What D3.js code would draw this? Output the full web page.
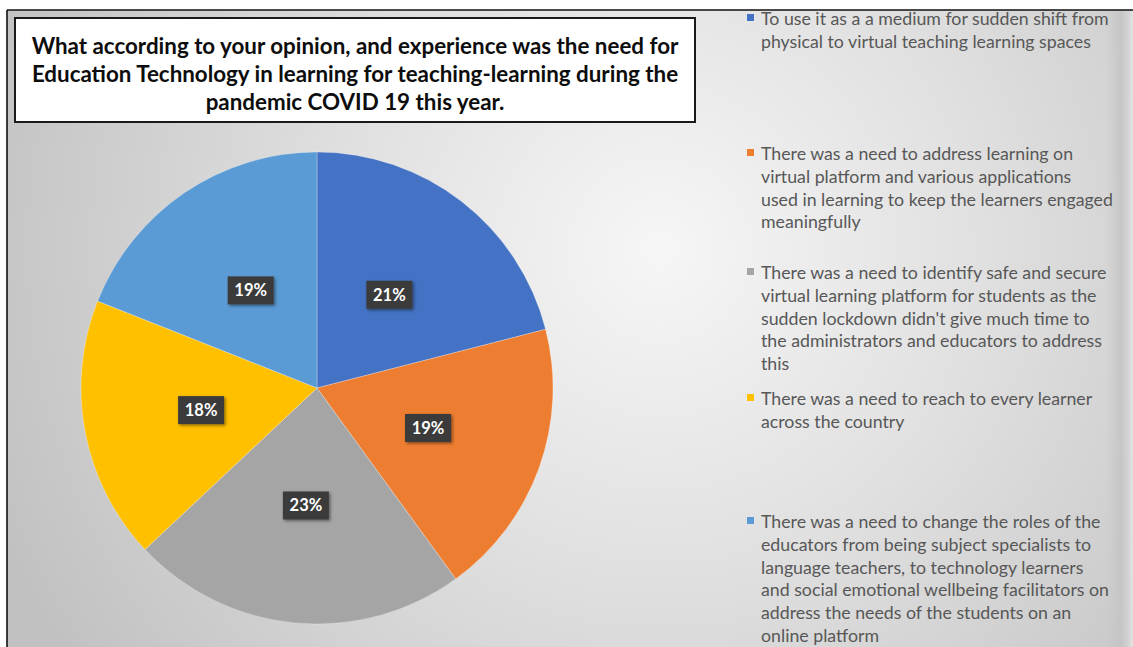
<!DOCTYPE html>
<html>
<head>
<meta charset="utf-8">
<script src="https://cdn.jsdelivr.net/npm/d3@7"></script>
<style>
  html, body { margin: 0; padding: 0; background: #ffffff; overflow: hidden; }
  svg { display: block; }
</style>
</head>
<body>
<svg id="chart" width="1133" height="647"></svg>
<script>
// Survey answers (legend text, line breaks as shown in the legend)
const categories = [
  "To use it as a a medium for sudden shift from\nphysical to virtual teaching learning spaces",
  "There was a need to address learning on\nvirtual platform and various applications\nused in learning to keep the learners engaged\nmeaningfully",
  "There was a need to identify safe and secure\nvirtual learning platform for students as the\nsudden lockdown didn't give much time to\nthe administrators and educators to address\nthis",
  "There was a need to reach to every learner\nacross the country",
  "There was a need to change the roles of the\neducators from being subject specialists to\nlanguage teachers, to technology learners\nand social emotional wellbeing facilitators on\naddress the needs of the students on an\nonline platform"
];
// Share of respondents, percent
const shares = [21, 19, 23, 18, 19];
const sliceColors = ["#4472C4", "#ED7D31", "#A5A5A5", "#FFC000", "#5B9BD5"];
const titleLines = [
  "What according to your opinion, and experience was the need for",
  "Education Technology in learning for teaching-learning during the",
  "pandemic COVID 19 this year."
];

const W = 1133, H = 647;
const FONT = "Lato, 'Open Sans', 'DejaVu Sans', sans-serif";
const svg = d3.select("#chart");
const defs = svg.append("defs");

// Background: radial grey gradient inside a thin black frame
const bg = defs.append("radialGradient")
  .attr("id", "bgGrad").attr("gradientUnits", "userSpaceOnUse")
  .attr("cx", 660).attr("cy", 250).attr("r", 720);
bg.append("stop").attr("offset", 0).attr("stop-color", "#f6f6f6");
bg.append("stop").attr("offset", 0.45).attr("stop-color", "#e0e0e0");
bg.append("stop").attr("offset", 1).attr("stop-color", "#c1c1c1");

const edge = defs.append("linearGradient").attr("id", "edgeGrad")
  .attr("x1", 0).attr("x2", 1).attr("y1", 0).attr("y2", 0);
edge.append("stop").attr("offset", 0).attr("stop-color", "#c8c8c8").attr("stop-opacity", 0);
edge.append("stop").attr("offset", 0.55).attr("stop-color", "#c4c4c4").attr("stop-opacity", 0.9);
edge.append("stop").attr("offset", 0.8).attr("stop-color", "#d2d2d2").attr("stop-opacity", 0.8);
edge.append("stop").attr("offset", 1).attr("stop-color", "#e6e6e6").attr("stop-opacity", 0.9);

const shadow = defs.append("filter").attr("id", "lblShadow")
  .attr("x", "-30%").attr("y", "-30%").attr("width", "160%").attr("height", "160%");
shadow.append("feDropShadow").attr("dx", 1.5).attr("dy", 1.5)
  .attr("stdDeviation", 1.4).attr("flood-color", "#000").attr("flood-opacity", 0.45);

svg.append("rect").attr("x", 7).attr("y", 10).attr("width", W - 7).attr("height", H - 10)
  .attr("fill", "url(#bgGrad)");
svg.append("rect").attr("x", 1106).attr("y", 11).attr("width", 27).attr("height", H - 11)
  .attr("fill", "url(#edgeGrad)");
svg.append("line").attr("x1", 7).attr("x2", W).attr("y1", 10).attr("y2", 10)
  .attr("stroke", "#111").attr("stroke-width", 1.6);
svg.append("line").attr("x1", 7).attr("x2", 7).attr("y1", 10).attr("y2", H)
  .attr("stroke", "#111").attr("stroke-width", 1.6);

// Helper: pick a font size so a text element spans the target width
function fitWidth(sel, target) {
  const node = sel.node();
  const base = parseFloat(sel.attr("font-size"));
  const w = node.getComputedTextLength();
  if (w > 0) sel.attr("font-size", (base * target / w).toFixed(2));
  return parseFloat(sel.attr("font-size"));
}

// Title box
const title = svg.append("g");
title.append("rect").attr("x", 15).attr("y", 18).attr("width", 680).attr("height", 104)
  .attr("fill", "#ffffff").attr("stroke", "#1a1a1a").attr("stroke-width", 2);
const titleText = title.selectAll("text").data(titleLines).join("text")
  .attr("x", 355).attr("y", (d, i) => 45 + i * 28)
  .attr("text-anchor", "middle").attr("dominant-baseline", "central")
  .attr("font-family", FONT).attr("font-weight", 700).attr("font-size", 19)
  .attr("fill", "#0d0d0d").text(d => d);
const titleSize = fitWidth(d3.select(titleText.nodes()[0]), 647);
titleText.attr("font-size", titleSize);

// Pie
const cx = 317, cy = 388, R = 236;
const pie = d3.pie().sort(null).value(d => d);
const arcs = pie(shares);
const arc = d3.arc().innerRadius(0).outerRadius(R);
const labelArc = d3.arc().innerRadius(R * 0.5).outerRadius(R * 0.5);
const color = d3.scaleOrdinal().domain(d3.range(shares.length)).range(sliceColors);

const pieG = svg.append("g").attr("transform", `translate(${cx},${cy})`);
pieG.selectAll("path").data(arcs).join("path")
  .attr("d", arc)
  .attr("fill", (d, i) => color(i))
  .attr("stroke", "#ffffff").attr("stroke-opacity", 0.35).attr("stroke-width", 0.8);

const lbl = pieG.selectAll("g.lbl").data(arcs).join("g").attr("class", "lbl")
  .attr("transform", d => `translate(${labelArc.centroid(d)})`);
lbl.append("rect").attr("x", -23).attr("y", -14).attr("width", 46).attr("height", 28)
  .attr("fill", "#3b3b3b").attr("filter", "url(#lblShadow)");
lbl.append("text").attr("text-anchor", "middle").attr("dominant-baseline", "central")
  .attr("font-family", FONT).attr("font-weight", 700).attr("font-size", 16.5)
  .attr("fill", "#ffffff").text(d => d.data + "%");

// Legend
const legendTop = [18, 153, 272, 398, 521];
const lineH = 22.8;
const legend = svg.append("g");
const items = legend.selectAll("g").data(categories).join("g")
  .attr("transform", (d, i) => `translate(0,${legendTop[i]})`);
items.append("rect").attr("x", 747).attr("y", -4).attr("width", 7).attr("height", 7)
  .attr("fill", (d, i) => color(i));
const legendLines = items.selectAll("text").data(d => d.split("\n")).join("text")
  .attr("x", 761).attr("y", (d, j) => j * lineH)
  .attr("dominant-baseline", "central")
  .attr("font-family", FONT).attr("font-size", 15).attr("fill", "#575757")
  .text(d => d);
const refLine = legendLines.filter(d => d.startsWith("used in learning"));
const legendSize = fitWidth(refLine, 352);
legendLines.attr("font-size", legendSize);
</script>
</body>
</html>
